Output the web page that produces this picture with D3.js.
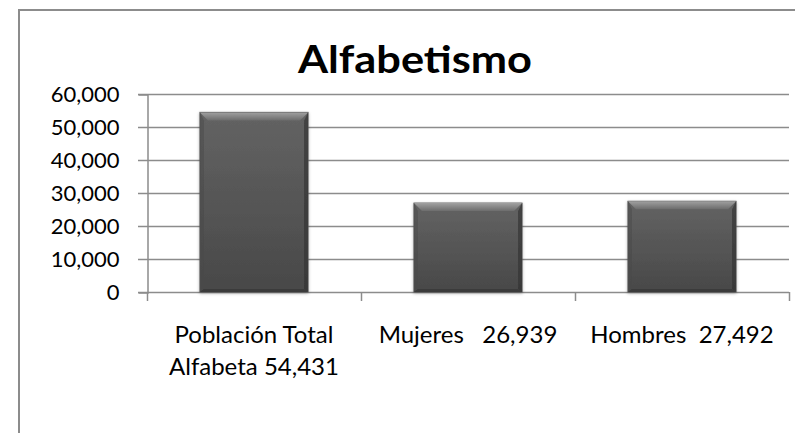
<!DOCTYPE html>
<html>
<head>
<meta charset="utf-8">
<script src="https://cdn.jsdelivr.net/npm/d3@7"></script>
<style>
  body { margin: 0; background: #fff; }
  svg { display: block; }
</style>
</head>
<body>
<svg width="795" height="433"></svg>
<script>
(function(d3) {
    'use strict';

    const categories = ['Población Total Alfabeta 54,431', 'Mujeres   26,939', 'Hombres  27,492'];
    const labelLines = [['Población Total', 'Alfabeta 54,431'], ['Mujeres   26,939'], ['Hombres  27,492']];
    const values = [54431, 26939, 27492];
    const yTicks = [0, 10000, 20000, 30000, 40000, 50000, 60000];
    const title = 'Alfabetismo';

    const svg = d3.select('svg');
    const labelFont = 'Lato, sans-serif';

    // outer chart border (cut off at the right and bottom)
    svg.append('path')
        .attr('d', 'M19,440 V10 H800')
        .attr('fill', 'none')
        .attr('stroke', '#8c8c8c')
        .attr('stroke-width', 2);

    svg.append('text')
        .attr('x', 415)
        .attr('y', 73)
        .attr('text-anchor', 'middle')
        .attr('font-family', 'Lato, sans-serif')
        .attr('font-weight', 'bold')
        .attr('font-size', 38)
        .attr('textLength', 234)
        .attr('lengthAdjust', 'spacingAndGlyphs')
        .attr('fill', '#000')
        .text(title);

    const x = d3.scaleBand()
        .domain(categories)
        .range([147, 789])
        .paddingInner(0.495)
        .paddingOuter(0.2475);

    const y = d3.scaleLinear()
        .domain([0, 60000])
        .range([292, 94]);

    const defs = svg.append('defs');
    const body = defs.append('linearGradient')
        .attr('id', 'barBody')
        .attr('x1', 0).attr('y1', 0).attr('x2', 0).attr('y2', 1);
    body.append('stop').attr('offset', 0).attr('stop-color', '#636363');
    body.append('stop').attr('offset', 1).attr('stop-color', '#484848');
    const topBev = defs.append('linearGradient')
        .attr('id', 'barTop')
        .attr('x1', 0).attr('y1', 0).attr('x2', 0).attr('y2', 1);
    topBev.append('stop').attr('offset', 0).attr('stop-color', '#a0a0a0');
    topBev.append('stop').attr('offset', 1).attr('stop-color', '#6c6c6c');
    const shadow = defs.append('filter')
        .attr('id', 'shadow')
        .attr('x', -0.1).attr('y', -0.1).attr('width', 1.2).attr('height', 1.2);
    shadow.append('feDropShadow')
        .attr('dx', 0).attr('dy', 1).attr('stdDeviation', 1.5)
        .attr('flood-color', '#000').attr('flood-opacity', 0.3);

    // grid lines
    svg.append('g')
        .selectAll('line')
        .data(yTicks)
        .enter().append('line')
        .attr('x1', 138)
        .attr('x2', 789)
        .attr('y1', d => Math.round(y(d)) + 0.5)
        .attr('y2', d => Math.round(y(d)) + 0.5)
        .attr('stroke', '#8c8c8c')
        .attr('stroke-width', 1.5);

    // y axis
    const yAxis = svg.append('g')
        .attr('transform', 'translate(147.5,0.5)')
        .call(d3.axisLeft(y)
            .tickValues(yTicks)
            .tickSize(9)
            .tickPadding(19)
            .tickFormat(d3.format(',')));
    yAxis.select('.domain').attr('stroke', '#8c8c8c').attr('stroke-width', 1.5);
    yAxis.selectAll('.tick line').remove();
    yAxis.selectAll('.tick text')
        .attr('font-family', labelFont)
        .attr('font-size', 22)
        .attr('fill', '#000');

    // x axis ticks at category boundaries
    const halfGap = (x.step() - x.bandwidth()) / 2;
    const bounds = categories.map((c, i) => i === 0 ? x.range()[0] : x(c) - halfGap);
    bounds.push(x.range()[1]);
    svg.append('g')
        .selectAll('line')
        .data(bounds)
        .enter().append('line')
        .attr('x1', d => Math.round(d) + 0.5)
        .attr('x2', d => Math.round(d) + 0.5)
        .attr('y1', y(0))
        .attr('y2', y(0) + 9)
        .attr('stroke', '#8c8c8c')
        .attr('stroke-width', 1.5);

    // bars with a bevel
    const bev = 8;
    const bars = svg.append('g')
        .selectAll('g')
        .data(values)
        .enter().append('g')
        .attr('filter', 'url(#shadow)');

    bars.append('rect')
        .attr('x', (d, i) => x(categories[i]))
        .attr('y', d => y(d))
        .attr('width', x.bandwidth())
        .attr('height', d => y(0) - y(d))
        .attr('fill', 'url(#barBody)')
        .attr('stroke', '#555')
        .attr('stroke-width', 1);

    bars.append('path')
        .attr('d', (d, i) => {
            const x0 = x(categories[i]), x1 = x0 + x.bandwidth(), y0 = y(d);
            return `M${x0},${y0} H${x1} L${x1 - bev},${y0 + bev} H${x0 + bev} Z`;
        })
        .attr('fill', 'url(#barTop)');

    bars.append('path')
        .attr('d', (d, i) => {
            const x0 = x(categories[i]), y0 = y(d), y1 = y(0);
            return `M${x0},${y0} L${x0 + 4},${y0 + bev} V${y1 - 3} L${x0},${y1} Z`;
        })
        .attr('fill', '#4a4a4a')
        .attr('opacity', 0.5);

    bars.append('path')
        .attr('d', (d, i) => {
            const x1 = x(categories[i]) + x.bandwidth(), y0 = y(d), y1 = y(0);
            return `M${x1},${y0} L${x1 - 4},${y0 + bev} V${y1 - 3} L${x1},${y1} Z`;
        })
        .attr('fill', '#2e2e2e')
        .attr('opacity', 0.6);

    bars.append('path')
        .attr('d', (d, i) => {
            const x0 = x(categories[i]), x1 = x0 + x.bandwidth(), y1 = y(0);
            return `M${x0},${y1} L${x0 + 4},${y1 - 3} H${x1 - 4} L${x1},${y1} Z`;
        })
        .attr('fill', '#3a3a3a');

    // category labels
    const labels = svg.append('g')
        .selectAll('text')
        .data(labelLines)
        .enter().append('text')
        .attr('x', (d, i) => x(categories[i]) + x.bandwidth() / 2)
        .attr('y', 343)
        .attr('text-anchor', 'middle')
        .attr('font-family', labelFont)
        .attr('font-size', 24)
        .attr('fill', '#000')
        .style('white-space', 'pre');

    labels.selectAll('tspan')
        .data(d => d)
        .enter().append('tspan')
        .attr('x', function() { return d3.select(this.parentNode).attr('x'); })
        .attr('dy', (d, i) => i === 0 ? 0 : 32)
        .text(d => d);
}(d3));
</script>
</body>
</html>
